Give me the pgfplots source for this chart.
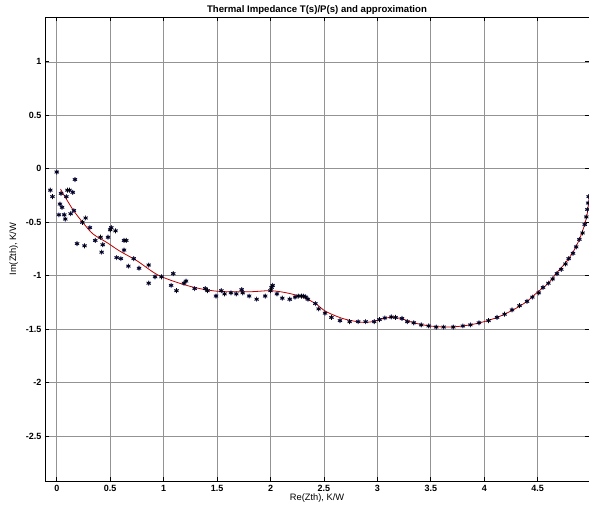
\documentclass[border=0pt]{standalone}
\usepackage{fontspec}
\setmainfont{Liberation Sans}
\usepackage{pgfplots}
\usepackage{pgfplotstable}
\pgfplotsset{compat=1.18}
\pgfplotstableread{
x y
-0.12 -0.50
0.00 -0.03
-0.06 -0.20
-0.04 -0.26
0.17 -0.10
0.04 -0.23
0.10 -0.20
0.12 -0.20
0.15 -0.22
0.09 -0.26
0.03 -0.33
0.05 -0.36
0.02 -0.43
0.07 -0.43
0.08 -0.47
0.13 -0.42
0.16 -0.39
0.24 -0.50
0.27 -0.46
0.31 -0.55
0.19 -0.70
0.26 -0.72
0.36 -0.67
0.42 -0.78
0.43 -0.71
0.41 -0.64
0.48 -0.64
0.50 -0.57
0.51 -0.55
0.55 -0.58
0.63 -0.67
0.65 -0.67
0.63 -0.76
0.56 -0.83
0.60 -0.84
0.67 -0.91
0.72 -0.84
0.77 -0.93
0.86 -0.90
0.86 -1.07
0.92 -1.01
0.98 -1.01
1.09 -0.98
1.07 -1.09
1.12 -1.14
1.19 -1.07
1.21 -1.05
1.29 -1.12
1.39 -1.12
1.41 -1.14
1.49 -1.19
1.54 -1.14
1.57 -1.17
1.63 -1.16
1.68 -1.17
1.73 -1.13
1.74 -1.16
1.80 -1.19
1.87 -1.22
1.95 -1.19
2.01 -1.11
2.02 -1.09
2.00 -1.14
2.06 -1.17
2.11 -1.21
2.18 -1.22
2.23 -1.20
2.26 -1.19
2.29 -1.19
2.31 -1.19
2.33 -1.20
2.35 -1.22
2.42 -1.26
2.45 -1.31
2.51 -1.35
2.57 -1.39
2.65 -1.42
2.74 -1.43
2.82 -1.43
2.89 -1.43
2.97 -1.43
3.02 -1.41
3.07 -1.395
3.13 -1.386
3.17 -1.39
3.23 -1.40
3.28 -1.43
3.34 -1.44
3.41 -1.46
3.48 -1.47
3.55 -1.48
3.62 -1.48
3.71 -1.48
3.80 -1.47
3.87 -1.46
3.95 -1.44
4.04 -1.42
4.12 -1.39
4.19 -1.36
4.26 -1.32
4.33 -1.28
4.40 -1.24
4.45 -1.20
4.51 -1.16
4.55 -1.11
4.60 -1.07
4.64 -1.03
4.68 -0.98
4.72 -0.94
4.76 -0.89
4.79 -0.84
4.83 -0.79
4.86 -0.73
4.89 -0.66
4.92 -0.60
4.94 -0.52
4.955 -0.45
4.965 -0.38
4.972 -0.32
4.977 -0.26
4.981 -0.20
4.984 -0.15
4.986 -0.10
4.988 -0.06
}\meas
\pgfplotstableread{
x y
0.035 -0.19
0.15 -0.38
0.25 -0.51
0.34 -0.61
0.47 -0.69
0.59 -0.77
0.75 -0.86
0.96 -1.00
1.25 -1.10
1.50 -1.145
1.80 -1.15
2.00 -1.14
2.15 -1.16
2.30 -1.20
2.42 -1.26
2.51 -1.33
2.62 -1.38
2.71 -1.41
2.85 -1.435
2.95 -1.43
3.05 -1.40
3.13 -1.39
3.22 -1.40
3.34 -1.44
3.49 -1.47
3.65 -1.48
3.80 -1.47
3.96 -1.44
4.12 -1.39
4.27 -1.32
4.40 -1.24
4.49 -1.16
4.60 -1.07
4.68 -0.97
4.76 -0.88
4.83 -0.78
4.89 -0.66
4.93 -0.55
4.96 -0.44
4.975 -0.33
4.985 -0.22
4.99 -0.12
4.993 -0.03
}\fit
\begin{document}
\begin{tikzpicture}
\begin{axis}[
  scale only axis,
  width=544pt, height=464pt,
  xmin=-0.11, xmax=4.98,
  ymin=-2.92, ymax=1.42,
  xtick={0,0.5,...,4.5},
  ytick={-2.5,-2,...,1},
  xticklabels={0,0.5,1,1.5,2,2.5,3,3.5,4,4.5},
  yticklabels={-2.5,-2,-1.5,-1,-0.5,0,0.5,1},
  tick align=inside,
  major tick length=4pt,
  grid=major,
  major grid style={gray!85, line width=0.7pt},
  axis line style={black, line width=0.8pt},
  tick style={black, line width=0.8pt},
  ticklabel style={font=\fontsize{9}{10}\selectfont\bfseries},
  xticklabel style={yshift=-1pt},
  title={\fontsize{9.6}{11}\selectfont\bfseries Thermal Impedance T(s)/P(s) and approximation},
  title style={yshift=-7pt},
  xlabel={\fontsize{9.3}{10}\selectfont Re(Zth), K/W},
  ylabel={\fontsize{9.3}{10}\selectfont Im(Zth), K/W},
  xlabel style={yshift=5pt},
  ylabel style={yshift=1pt},
  clip=true,
]
\addplot[only marks, mark=*, mark size=1.8pt, draw=blue, fill=blue!80, opacity=0.6] table[x=x,y=y] {\meas};
\addplot[only marks, mark=asterisk, mark size=2.5pt, black, line width=0.7pt] table[x=x,y=y] {\meas};
\addplot[red!75!black, line width=0.8pt, smooth] table[x=x,y=y] {\fit};
\end{axis}
\pgfresetboundingbox
\path (-45pt,-27pt) rectangle (544pt,481pt);
\end{tikzpicture}
\end{document}
